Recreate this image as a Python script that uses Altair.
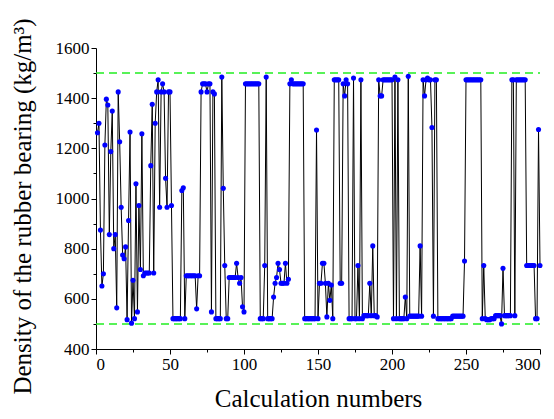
import altair as alt
import pandas as pd

calc_numbers = list(range(1, 301))
density = [
    1262, 1300, 874, 651, 700, 1213, 1396, 1373, 856, 1187,
    1349, 800, 856, 564, 1425, 1226, 965, 775, 760, 807,
    517, 912, 1265, 503, 674, 521, 1059, 548, 972, 717,
    1258, 692, 703, 703, 703, 703, 1131, 1376, 703, 1300,
    1425, 1473, 965, 1425, 1457, 1425, 1081, 965, 1425, 1425,
    972, 521, 521, 521, 521, 521, 521, 1032, 1043, 521,
    692, 692, 692, 692, 692, 692, 692, 560, 692, 692,
    1425, 1457, 1457, 1457, 1425, 1457, 1457, 548, 1425, 1417,
    521, 521, 521, 521, 1484, 1041, 733, 521, 521, 685,
    685, 685, 685, 685, 742, 685, 662, 685, 568, 548,
    1457, 1457, 1457, 1457, 1457, 1457, 1457, 1457, 1457, 1457,
    521, 521, 521, 733, 1484, 521, 521, 521, 521, 607,
    662, 685, 742, 717, 662, 662, 662, 742, 662, 678,
    1457, 1473, 1457, 1457, 1457, 1457, 1457, 1457, 1457, 1457,
    521, 521, 521, 521, 521, 521, 521, 521, 1273, 521,
    662, 662, 742, 742, 662, 528, 662, 594, 655, 521,
    1473, 1473, 1473, 1473, 662, 662, 1457, 1409, 1473, 1457,
    521, 521, 521, 1480, 521, 521, 733, 521, 1473, 521,
    533, 533, 533, 533, 662, 533, 811, 533, 533, 528,
    1473, 1409, 1409, 1473, 1473, 1473, 1473, 1473, 1473, 1473,
    521, 1484, 521, 1473, 521, 521, 521, 521, 607, 521,
    1487, 531, 531, 531, 531, 531, 531, 531, 811, 531,
    1473, 1409, 1473, 1480, 1473, 1473, 1283, 531, 1473, 1473,
    521, 521, 521, 521, 521, 521, 521, 521, 521, 521,
    531, 531, 531, 531, 531, 531, 531, 531, 751, 1473,
    1473, 1473, 1473, 1473, 1473, 1473, 1473, 1473, 1473, 1473,
    521, 733, 521, 517, 517, 517, 521, 521, 521, 533,
    533, 533, 533, 500, 722, 533, 533, 533, 533, 533,
    1473, 1473, 533, 1473, 1473, 1473, 1473, 1473, 1473, 1473,
    733, 733, 733, 733, 733, 733, 521, 521, 1275, 733,
]
ref_levels = [500, 1500]
x_ticks = list(range(0, 301, 25))
y_ticks = list(range(400, 1601, 100))

df = pd.DataFrame({"n": calc_numbers, "density": density})
ref = pd.DataFrame({"level": ref_levels})

W, H = 444, 301
FONT = "Liberation Serif"

x_axis = alt.Axis(
    values=x_ticks,
    labelExpr="datum.value % 50 === 0 ? datum.label : ''",
    tickSize={"condition": {"test": "datum.value % 50 === 0", "value": 5}, "value": 3},
    title="Calculation numbers",
    titleFontSize=25,
    titlePadding=14,
    grid=False,
)
y_axis = alt.Axis(
    values=y_ticks,
    labelExpr="datum.value % 200 === 0 ? datum.label : ''",
    tickSize={"condition": {"test": "datum.value % 200 === 0", "value": 5}, "value": 3},
    title="Density of the rubber bearing  (kg/m³)",
    titleFontSize=25,
    titlePadding=20,
    titleY=158,
    grid=False,
    format="d",
)
x_scale = alt.Scale(domain=[0, 300], nice=False, zero=False)
y_scale = alt.Scale(domain=[400, 1600], nice=False, zero=False)

base = alt.Chart(df).encode(
    x=alt.X("n:Q", scale=x_scale, axis=x_axis),
    y=alt.Y("density:Q", scale=y_scale, axis=y_axis),
)
line = base.mark_line(color="black", strokeWidth=1)
pts = base.mark_circle(color="#0000FF", size=26, opacity=1)

rules = alt.Chart(ref).mark_rule(
    color="#22EE22", strokeDash=[8, 5], strokeWidth=1.5
).encode(
    y=alt.Y("level:Q", scale=y_scale, axis=y_axis),
    x=alt.value(0),
    x2=alt.value(W),
)

chart = alt.layer(rules, line, pts).properties(
    width=W,
    height=H,
    padding={"left": 96, "top": 48, "right": 14, "bottom": 70},
    autosize=alt.AutoSizeParams(type="none"),
).configure(background="white").configure_view(stroke=None).configure_axis(
    labelFont=FONT,
    titleFont=FONT,
    labelFontSize=17,
    labelColor="black",
    titleColor="black",
    titleFontWeight="normal",
    domainColor="black",
    tickColor="black",
    domainWidth=1,
    tickWidth=1,
    labelPadding=2,
)

chart.save("out.html", embed_options={"renderer": "svg", "actions": False})
